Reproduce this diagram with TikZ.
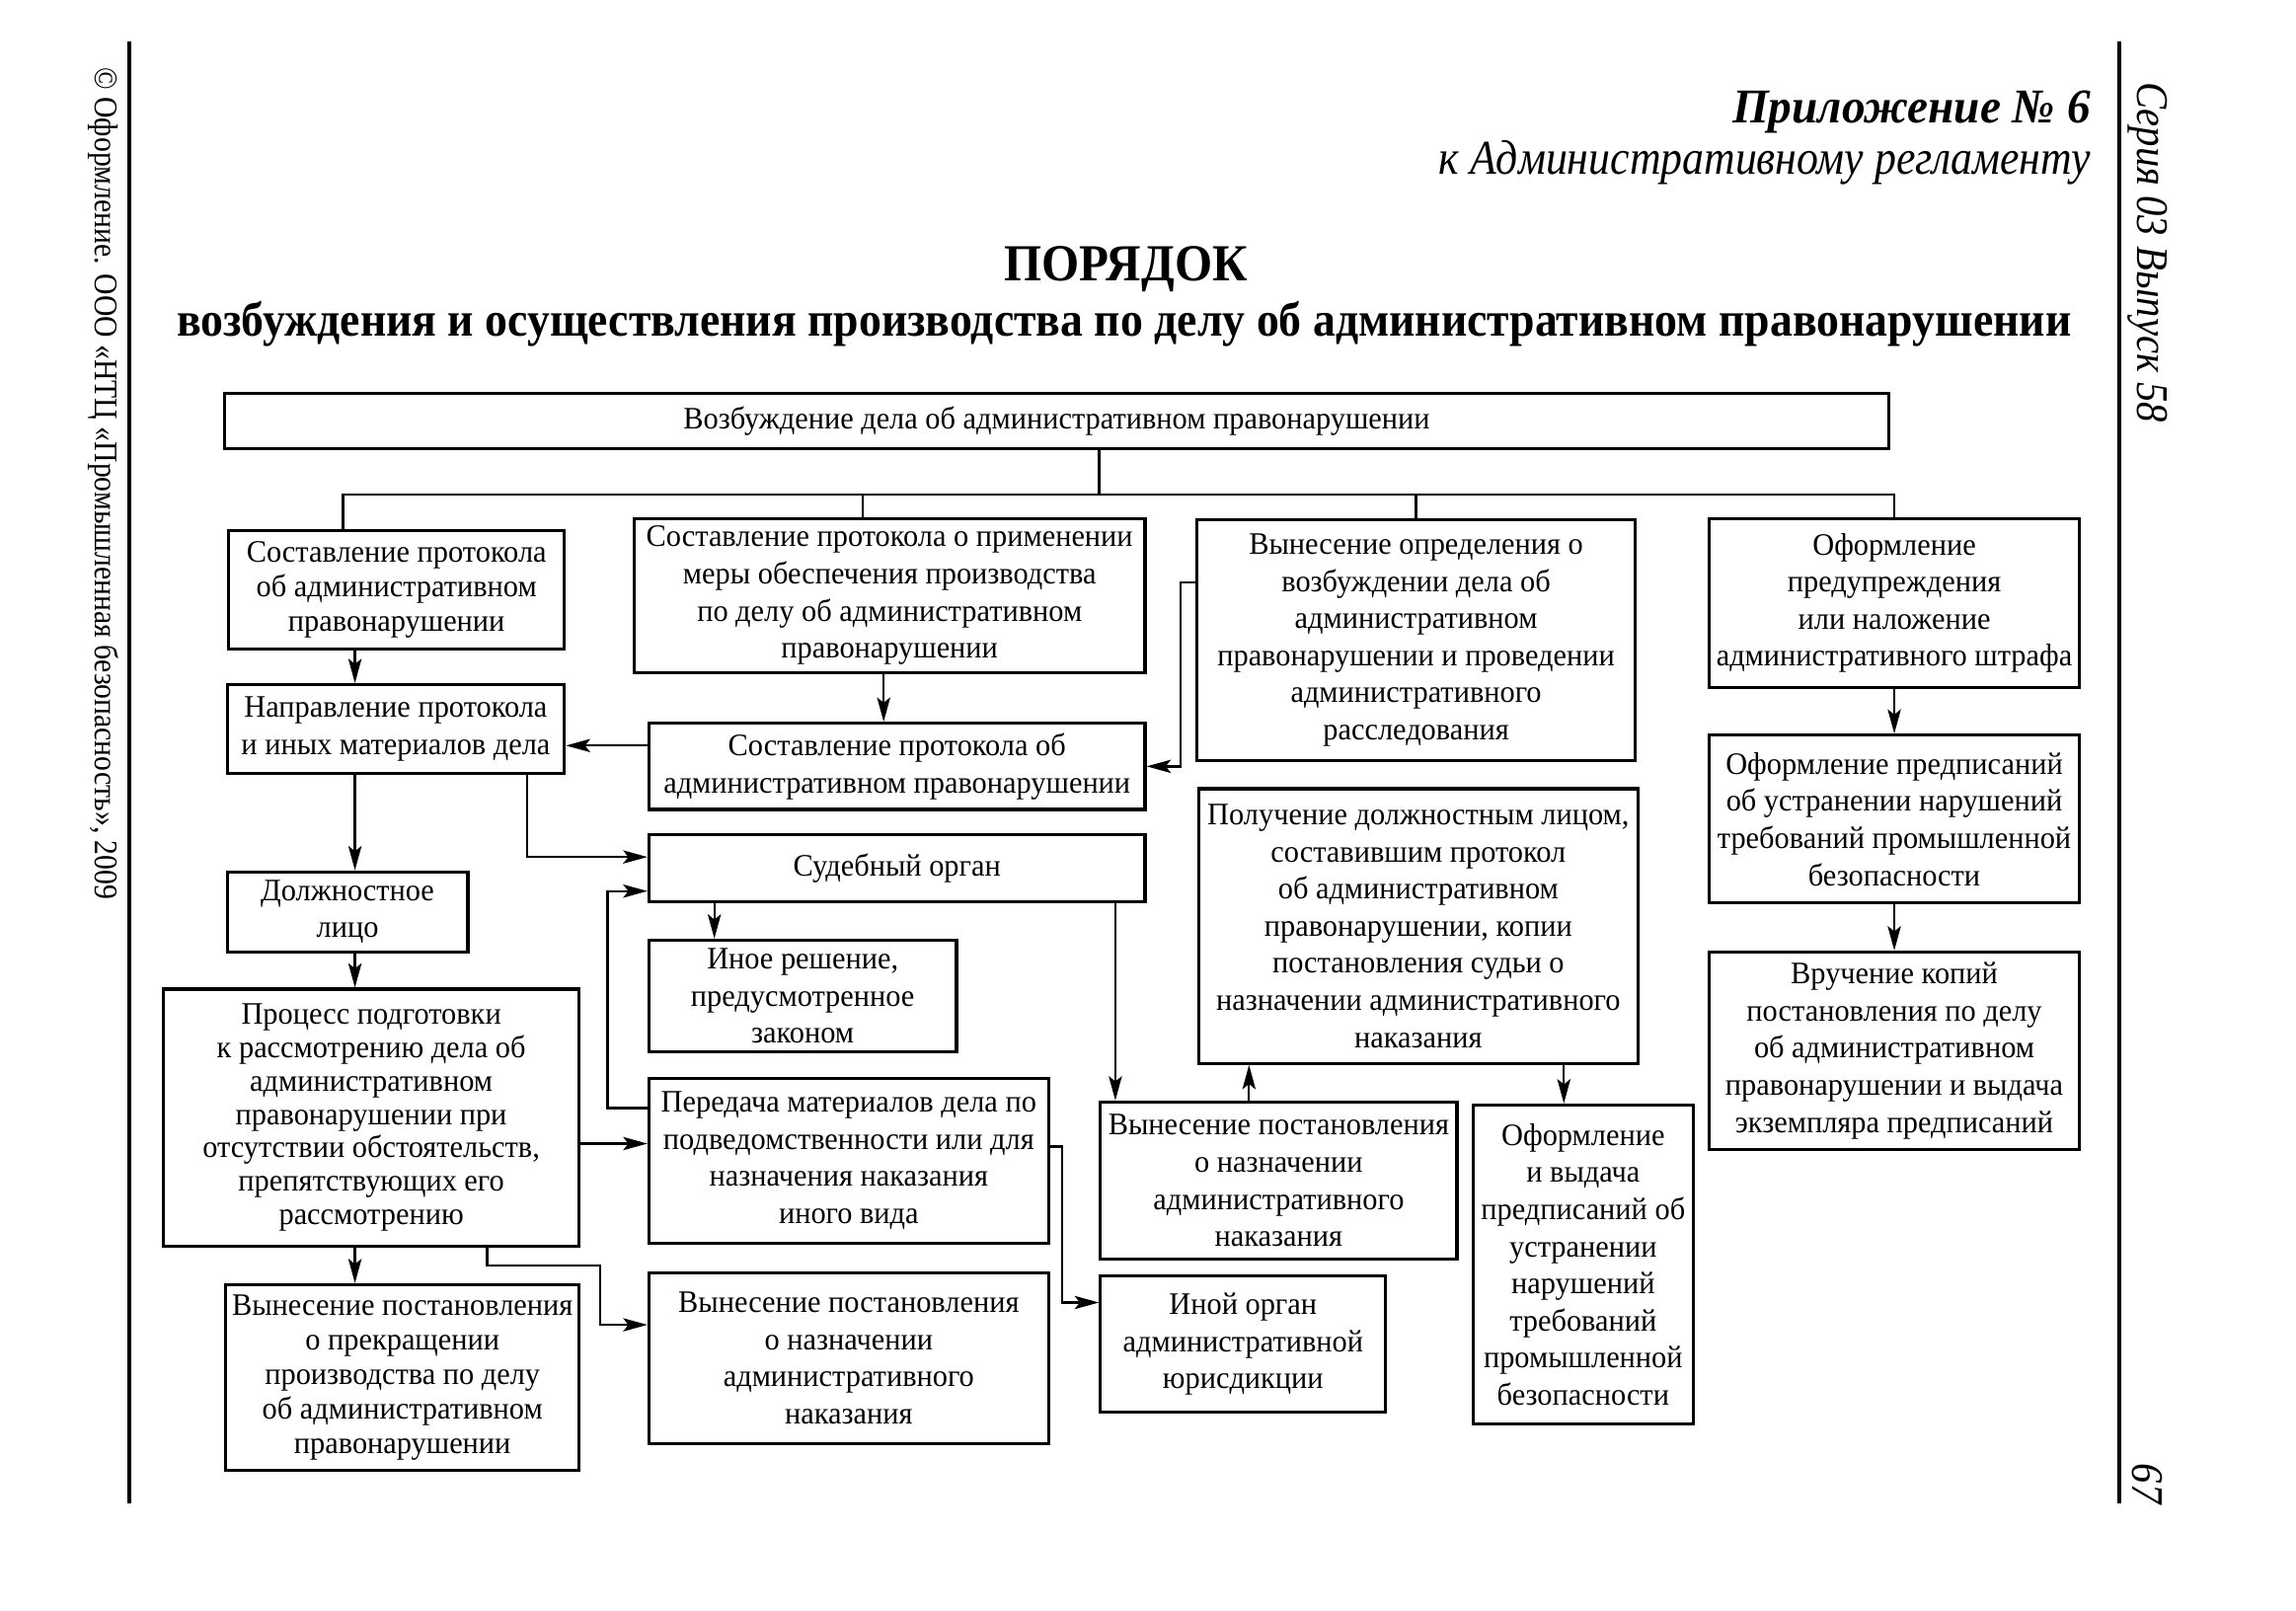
\documentclass[tikz,border=0pt]{standalone}
\usepackage{fontspec}
\setmainfont{Liberation Serif}
\newfontfamily\boxfam{Liberation Serif}[FakeStretch=0.96]
\newfontfamily\headfam{Liberation Serif}[FakeStretch=0.93]
\newfontfamily\sidefam{Liberation Serif}[FakeStretch=0.89]
\usetikzlibrary{arrows.meta}

\newcommand{\boxfont}{\boxfam\fontsize{9}{10.7}\selectfont}
\def\unit{0.015045cm}

\begin{document}
\begin{tikzpicture}[x=\unit, y=-\unit,
    box/.style={draw, line width=0.9pt, inner sep=0pt, align=center, font=\boxfont},
    spanning/.style n args={4}{minimum width={(#3-#1)*\unit}, minimum height={(#4-#2)*\unit},
      at={({(#1+#3)/2},{(#2+#4)/2})}},
    label/.style={inner sep=0pt},
    link/.style={line width=0.65pt},
    arr/.style={link, -{Stealth[length=7pt, width=3.8pt, inset=1.5pt]}}]
  \useasboundingbox (0,0) rectangle (1546,1084.1);

  % Page rules and running heads
  \draw[line width=1.2pt] (87,28) -- (87,1012);
  \draw[line width=1.2pt] (1427,28) -- (1427,1012);
  \node[label, rotate=-90, anchor=west, font=\sidefam\fontsize{9.5}{11}\selectfont] (copyright) at (70,45) {© Оформление. ООО «НТЦ «Промышленная безопасность», 2009};
  \node[label, rotate=-90, anchor=west, font=\sidefam\itshape\fontsize{13}{15}\selectfont] (series) at (1446,55) {Серия 03 Выпуск 58};
  \node[label, rotate=-90, anchor=west, font=\sidefam\itshape\fontsize{13}{15}\selectfont] (page) at (1446,985) {67};

  % Heading
  \node[label, anchor=base east, font=\boxfam\bfseries\itshape\fontsize{14}{16}\selectfont] (appx) at (1408,83) {Приложение № 6};
  \node[label, anchor=base east, font=\sidefam\itshape\fontsize{14}{16}\selectfont] (reg) at (1408,117) {к Административному регламенту};
  \node[label, anchor=base, font=\headfam\bfseries\fontsize{15}{18}\selectfont] (title) at (758,189) {ПОРЯДОК};
  \node[label, anchor=base, font=\headfam\bfseries\fontsize{14}{17}\selectfont] (subtitle) at (757,226) {возбуждения и осуществления производства по делу об административном правонарушении};

  % Boxes
  \node[box, spanning={151}{265}{1272}{302}] (start) {Возбуждение дела об административном правонарушении};
  \node[box, spanning={154}{357}{380}{437}, font=\boxfam\fontsize{9}{9.9}\selectfont] (protocol) {Составление протокола\\об административном\\правонарушении};
  \node[box, spanning={427}{349}{771}{453}] (measure) {Составление протокола о применении\\меры обеспечения производства\\по делу об административном\\правонарушении};
  \node[box, spanning={806}{350}{1101}{512}] (ruling) {Вынесение определения о\\возбуждении дела об\\административном\\правонарушении и проведении\\административного\\расследования};
  \node[box, spanning={1151}{349}{1400}{463}] (fine) {Оформление\\предупреждения\\или наложение\\административного штрафа};
  \node[box, spanning={153}{461}{380}{521}] (dispatch) {Направление протокола\\и иных материалов дела};
  \node[box, spanning={437}{487}{771}{545}] (protocolB) {Составление протокола об\\административном правонарушении};
  \node[box, spanning={437}{562}{771}{607}] (court) {Судебный орган};
  \node[box, spanning={153}{587}{315}{641}] (officer) {Должностное\\лицо};
  \node[box, spanning={437}{633}{644}{708}] (otherdec) {Иное решение,\\предусмотренное\\законом};
  \node[box, spanning={110}{666}{390}{839}, font=\boxfam\fontsize{9}{9.6}\selectfont] (prepare) {Процесс подготовки\\к рассмотрению дела об\\административном\\правонарушении при\\отсутствии обстоятельств,\\препятствующих его\\рассмотрению};
  \node[box, spanning={437}{726}{706}{837}] (transfer) {Передача материалов дела по\\подведомственности или для\\назначения наказания\\иного вида};
  \node[box, spanning={152}{865}{390}{990}, font=\boxfam\fontsize{9}{9.9}\selectfont] (stop) {Вынесение постановления\\о прекращении\\производства по делу\\об административном\\правонарушении};
  \node[box, spanning={437}{857}{706}{972}] (penalty) {Вынесение постановления\\о назначении\\административного\\наказания};
  \node[box, spanning={741}{742}{981}{848}] (penaltyC) {Вынесение постановления\\о назначении\\административного\\наказания};
  \node[box, spanning={741}{859}{933}{951}] (otherbody) {Иной орган\\административной\\юрисдикции};
  \node[box, spanning={807}{531}{1103}{716}] (copies) {Получение должностным лицом,\\составившим протокол\\об административном\\правонарушении, копии\\постановления судьи о\\назначении административного\\наказания};
  \node[box, spanning={992}{744}{1140}{959}] (orders) {Оформление\\и выдача\\предписаний об\\устранении\\нарушений\\требований\\промышленной\\безопасности};
  \node[box, spanning={1151}{495}{1400}{608}] (ordersB) {Оформление предписаний\\об устранении нарушений\\требований промышленной\\безопасности};
  \node[box, spanning={1151}{641}{1400}{774}] (handover) {Вручение копий\\постановления по делу\\об административном\\правонарушении и выдача\\экземпляра предписаний};

  % Distribution from the top box
  \coordinate (bus) at (740,333);
  \coordinate (busL) at (231,333);
  \coordinate (busM) at (581,333);
  \draw[link] (start.south -| bus) -- (bus);
  \draw[link] (protocol.north -| busL) -- (busL) -| (fine.north);
  \draw[link] (measure.north -| busM) -- (busM);
  \draw[link] (ruling.north) -- (ruling.north |- bus);

  % Left column arrows
  \coordinate (colL) at (239,0);
  \foreach \a/\b in {protocol/dispatch, dispatch/officer, officer/prepare, prepare/stop}
    \draw[arr] (\a.south -| colL) -- (\b.north -| colL);

  % Middle arrows
  \coordinate (colM) at (595,0);
  \draw[arr] (measure.south -| colM) -- (protocolB.north -| colM);
  \coordinate (rowS) at (0,502);
  \draw[arr] (protocolB.west |- rowS) -- (dispatch.east |- rowS);
  \coordinate (bendR) at (795,392);
  \draw[arr] (ruling.west |- bendR) -- (bendR) |- (protocolB.east);
  \coordinate (bendC) at (355,577);
  \draw[arr] (dispatch.south -| bendC) |- (court.west |- bendC);
  \coordinate (colO) at (481,0);
  \draw[arr] (court.south -| colO) -- (otherdec.north -| colO);
  \coordinate (rowP) at (0,770);
  \draw[arr] (prepare.east |- rowP) -- (transfer.west |- rowP);
  \coordinate (bendT) at (409,746);
  \coordinate (rowC) at (0,600);
  \draw[arr] (transfer.west |- bendT) -- (bendT) |- (court.west |- rowC);
  \coordinate (bendO) at (715,772);
  \coordinate (bendO2) at (715,877);
  \draw[arr] (transfer.east |- bendO) -- (bendO) -- (bendO2) -- (otherbody.west |- bendO2);
  \coordinate (bendP) at (328,852);
  \coordinate (bendQ) at (404,892);
  \draw[arr] (prepare.south -| bendP) -- (bendP) -| (bendQ) -- (penalty.west |- bendQ);

  % Right-hand arrows
  \coordinate (colD) at (751,0);
  \draw[arr] (court.south -| colD) -- (penaltyC.north -| colD);
  \coordinate (colE) at (841,0);
  \coordinate (colF) at (1053,0);
  \draw[arr] (penaltyC.north -| colE) -- (copies.south -| colE);
  \draw[arr] (copies.south -| colF) -- (orders.north -| colF);
  \draw[arr] (fine.south) -- (ordersB.north);
  \draw[arr] (ordersB.south) -- (handover.north);
\end{tikzpicture}
\end{document}
